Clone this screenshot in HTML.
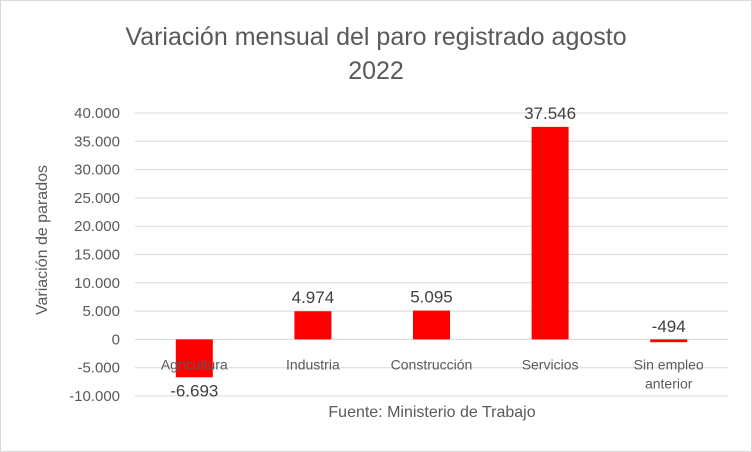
<!DOCTYPE html>
<html><head><meta charset="utf-8"><style>
body{margin:0;background:#fff;}
svg{display:block;font-family:"Liberation Sans",sans-serif;}
</style></head><body>
<svg width="752" height="452">
<rect x="0.5" y="0.5" width="751" height="451" fill="#fff" stroke="#d9d9d9"/>
<text x="376" y="45" text-anchor="middle" font-size="25" fill="#595959">Variación mensual del paro registrado agosto</text>
<text x="376" y="79" text-anchor="middle" font-size="25" fill="#595959">2022</text>
<text transform="translate(47,240) rotate(-90)" text-anchor="middle" font-size="16" fill="#595959">Variación de parados</text>
<text x="432" y="417" text-anchor="middle" font-size="16" fill="#595959">Fuente: Ministerio de Trabajo</text>
<g id="grid"></g><g id="bars"></g><g id="labels"></g>
</svg>
<script>
const categories=["Agricultura","Industria","Construcción","Servicios","Sin empleo|anterior"];
const values=[-6693,4974,5095,37546,-494];
const valueLabels=["-6.693","4.974","5.095","37.546","-494"];
const ticks=[40000,35000,30000,25000,20000,15000,10000,5000,0,-5000,-10000];
const tickLabels=["40.000","35.000","30.000","25.000","20.000","15.000","10.000","5.000","0","-5.000","-10.000"];
const NS="http://www.w3.org/2000/svg";
const plotL=135,plotR=728,yTop=113,yBot=396,vMax=40000,vMin=-10000;
const y=v=>yTop+(vMax-v)/(vMax-vMin)*(yBot-yTop);
const step=(plotR-plotL)/categories.length;
const x=i=>plotL+step*(i+0.5);
function mk(tag,attrs,parent){const e=document.createElementNS(NS,tag);for(const k in attrs)e.setAttribute(k,attrs[k]);document.getElementById(parent).appendChild(e);return e;}
ticks.forEach((t,i)=>{
 const l=mk("line",{x1:plotL,x2:plotR,y1:y(t),y2:y(t),stroke:"#d9d9d9","stroke-width":1},"grid");
 
 
 const tx=mk("text",{x:plotL-15,y:y(t)+5,"text-anchor":"end","font-size":15,fill:"#595959"},"grid");
 tx.textContent=tickLabels[i];
 
 
});
const bw=37;
values.forEach((v,i)=>{
 const y0=y(0),yv=y(v);
 const r=mk("rect",{x:x(i)-bw/2,y:Math.min(y0,yv),width:bw,height:Math.max(Math.abs(yv-y0),1),fill:"#ff0000"},"bars");
 
 
 const lab=mk("text",{x:x(i),y:v>=0?yv-8:(i==4?yv-10:yv+19),"text-anchor":"middle","font-size":17,fill:"#404040"},"labels");
 lab.textContent=valueLabels[i];
 
 
 const parts=categories[i].split("|");
 parts.forEach((p,j)=>{
  const c=mk("text",{x:x(i),y:y(0)+30+j*19,"text-anchor":"middle","font-size":14,fill:"#595959"},"labels");
  c.textContent=p;
  
  
 });
});
</script>
</body></html>
